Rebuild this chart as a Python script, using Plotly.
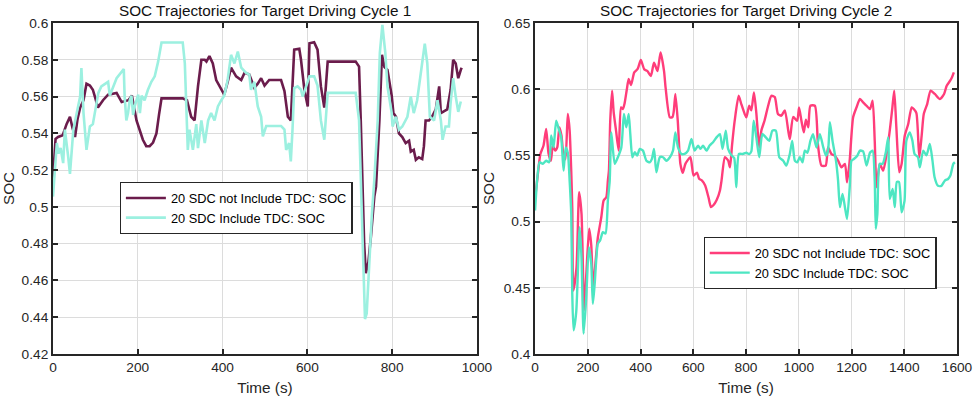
import plotly.graph_objects as go

# ---------------- Data: Cycle 1 ----------------
c1_not_t = [0, 6, 12, 23, 32, 40, 46, 52, 58, 64, 72, 79, 87, 94, 100, 106, 118, 130, 150, 162, 178, 186,
            197, 205, 212, 220, 228, 236, 244, 250, 256, 306, 316, 326, 334, 342, 350, 358, 362, 369, 377,
            385, 397, 404, 412, 420, 432, 444, 452, 463, 475, 483, 491, 499, 510, 538, 546, 554, 561, 569,
            581, 585, 593, 601, 605, 616, 624, 632, 640, 648, 714, 722, 726, 730, 734, 738, 744, 750, 758,
            762, 770, 776, 782, 789, 799, 803, 809, 816, 824, 832, 840, 844, 851, 856, 863, 871, 875, 879,
            887, 894, 903, 911, 915, 922, 930, 938, 944, 950, 956, 962, 964]
c1_not_soc = [0.515, 0.537, 0.538, 0.539, 0.545, 0.549, 0.543, 0.538, 0.548, 0.554, 0.558, 0.567, 0.566,
              0.5637, 0.559, 0.554, 0.558, 0.561, 0.562, 0.557, 0.558, 0.5606, 0.547, 0.542, 0.5365, 0.533,
              0.533, 0.535, 0.540, 0.550, 0.559, 0.559, 0.558, 0.549, 0.547, 0.5655, 0.580, 0.580, 0.579,
              0.582, 0.578, 0.569, 0.5635, 0.561, 0.568, 0.5757, 0.571, 0.569, 0.573, 0.572, 0.5648, 0.567,
              0.570, 0.566, 0.569, 0.569, 0.563, 0.549, 0.547, 0.5855, 0.586, 0.580, 0.5637, 0.5546, 0.589,
              0.5895, 0.5855, 0.5655, 0.554, 0.579, 0.579, 0.5763, 0.547, 0.511, 0.480, 0.464, 0.470, 0.484,
              0.5056, 0.511, 0.547, 0.5827, 0.576, 0.5745, 0.5605, 0.551, 0.549, 0.540, 0.538, 0.5347, 0.536,
              0.530, 0.531, 0.5256, 0.527, 0.526, 0.533, 0.547, 0.547, 0.549, 0.553, 0.5655, 0.551, 0.552,
              0.553, 0.5637, 0.580, 0.578, 0.570, 0.5745, 0.5757]

c1_inc_t = [0, 9, 13, 18, 24, 28, 36, 40, 48, 56, 64, 67, 72, 79, 87, 94, 107, 114, 122, 130, 134, 142,
            150, 167, 169, 173, 177, 181, 185, 189, 193, 201, 205, 209, 216, 224, 232, 240, 248, 256, 306,
            311, 315, 318, 322, 330, 338, 342, 350, 358, 366, 373, 381, 389, 397, 404, 412, 420, 428, 436,
            444, 455, 463, 467, 475, 483, 491, 495, 503, 538, 546, 550, 557, 561, 565, 569, 577, 585, 589,
            597, 605, 616, 624, 632, 640, 648, 714, 722, 728, 732, 736, 740, 746, 752, 758, 766, 771, 777,
            784, 789, 799, 801, 809, 816, 824, 836, 844, 851, 859, 871, 877, 883, 889, 899, 907, 915, 919,
            926, 934, 938, 944, 950, 956, 962]
c1_inc_soc = [0.5056, 0.5347, 0.529, 0.532, 0.5238, 0.542, 0.527, 0.518, 0.542, 0.551, 0.560, 0.5755,
              0.551, 0.531, 0.5437, 0.545, 0.562, 0.5655, 0.567, 0.568, 0.5605, 0.565, 0.570, 0.5749, 0.560,
              0.547, 0.551, 0.558, 0.5605, 0.550, 0.555, 0.561, 0.551, 0.5605, 0.558, 0.5637, 0.568, 0.571,
              0.579, 0.5894, 0.5894, 0.578, 0.551, 0.531, 0.542, 0.531, 0.545, 0.532, 0.547, 0.5347, 0.547,
              0.551, 0.547, 0.5546, 0.558, 0.5605, 0.569, 0.5827, 0.578, 0.5845, 0.5757, 0.573, 0.572,
              0.5637, 0.568, 0.5546, 0.549, 0.5383, 0.544, 0.544, 0.542, 0.531, 0.5347, 0.5247, 0.542,
              0.5646, 0.5655, 0.5637, 0.560, 0.5655, 0.571, 0.571, 0.566, 0.547, 0.5365, 0.562, 0.562, 0.547,
              0.500, 0.460, 0.439, 0.442, 0.470, 0.495, 0.5147, 0.547, 0.5836, 0.599, 0.5836, 0.5655, 0.551,
              0.5437, 0.549, 0.542, 0.5437, 0.549, 0.560, 0.551, 0.558, 0.578, 0.5887, 0.578, 0.549, 0.547,
              0.558, 0.547, 0.5365, 0.5437, 0.5437, 0.5565, 0.570, 0.560, 0.5517, 0.5573]

# ---------------- Data: Cycle 2 ----------------
c2_not_t = [0, 10, 20, 32, 42, 51, 60, 67, 76, 84, 92, 100, 107, 115, 124, 131, 137, 141, 145, 157, 167,
            176, 186, 194, 205, 213, 220, 225, 238, 251, 260, 270, 276, 280, 285, 292, 298, 307, 317, 326,
            333, 339, 348, 355, 364, 376, 389, 401, 414, 426, 439, 451, 464, 476, 489, 495, 511, 521, 526,
            532, 541, 551, 560, 570, 589, 601, 614, 622, 633, 645, 658, 667, 676, 689, 701, 707, 720, 732,
            739, 747, 757, 772, 782, 795, 801, 812, 820, 830, 839, 850, 858, 870, 882, 896, 909, 921, 934,
            947, 960, 966, 979, 994, 1001, 1010, 1019, 1027, 1036, 1044, 1061, 1073, 1086, 1102, 1111, 1124,
            1136, 1149, 1162, 1175, 1183, 1193, 1206, 1219, 1232, 1244, 1257, 1270, 1280, 1288, 1295, 1307,
            1320, 1333, 1345, 1355, 1362, 1370, 1381, 1390, 1402, 1415, 1428, 1436, 1446, 1457, 1466, 1474,
            1487, 1500, 1516, 1535, 1551, 1561, 1574, 1581, 1588]
c2_not_soc = [0.518, 0.535, 0.551, 0.5575, 0.570, 0.5515, 0.546, 0.5575, 0.5536, 0.556, 0.5712, 0.565,
              0.551, 0.547, 0.5813, 0.569, 0.5385, 0.510, 0.448, 0.465, 0.5222, 0.506, 0.433, 0.4595, 0.4946,
              0.482, 0.448, 0.4595, 0.488, 0.5033, 0.516, 0.5184, 0.531, 0.5385, 0.5762, 0.5989, 0.5827,
              0.5687, 0.5536, 0.5863, 0.585, 0.5889, 0.600, 0.6077, 0.6032, 0.6127, 0.6153, 0.622, 0.615,
              0.6137, 0.610, 0.620, 0.6137, 0.6277, 0.6137, 0.601, 0.5787, 0.579, 0.5835, 0.5964, 0.5762,
              0.5436, 0.5368, 0.5436, 0.5486, 0.5348, 0.537, 0.5323, 0.531, 0.5272, 0.518, 0.511, 0.5123,
              0.5165, 0.5235, 0.531, 0.5486, 0.5462, 0.541, 0.558, 0.5762, 0.595, 0.5888, 0.5812, 0.5787,
              0.5875, 0.584, 0.5976, 0.582, 0.556, 0.5687, 0.5762, 0.586, 0.595, 0.594, 0.5813, 0.580, 0.584,
              0.5687, 0.5623, 0.579, 0.5762, 0.5863, 0.5762, 0.5674, 0.577, 0.5712, 0.5875, 0.5875, 0.5574,
              0.5423, 0.5423, 0.556, 0.551, 0.5498, 0.546, 0.541, 0.5436, 0.5297, 0.546, 0.5787, 0.5863,
              0.5926, 0.590, 0.5875, 0.585, 0.5913, 0.5611, 0.526, 0.5436, 0.5385, 0.551, 0.5687, 0.5863,
              0.5989, 0.5712, 0.5373, 0.5436, 0.565, 0.5737, 0.5863, 0.585, 0.582, 0.5486, 0.565, 0.5813,
              0.5888, 0.5989, 0.5964, 0.5926, 0.5964, 0.6026, 0.6064, 0.609, 0.6127]

c2_inc_t = [0, 8, 17, 29, 42, 53, 61, 70, 80, 91, 99, 108, 116, 124, 131, 137, 141, 146, 156, 169, 176,
            184, 194, 204, 213, 219, 226, 238, 247, 257, 267, 276, 283, 289, 302, 314, 327, 337, 346, 355,
            361, 369, 378, 387, 397, 409, 422, 435, 443, 451, 460, 473, 485, 498, 511, 523, 532, 542, 555,
            567, 580, 593, 605, 618, 627, 637, 650, 662, 675, 688, 701, 711, 723, 732, 745, 755, 763, 773,
            788, 801, 812, 820, 829, 839, 850, 862, 875, 888, 900, 913, 926, 941, 953, 966, 975, 985, 994,
            1004, 1014, 1023, 1033, 1044, 1054, 1067, 1080, 1093, 1103, 1111, 1118, 1128, 1141, 1149, 1156,
            1166, 1175, 1183, 1193, 1200, 1209, 1222, 1232, 1244, 1257, 1270, 1280, 1288, 1292, 1298, 1307,
            1318, 1330, 1339, 1345, 1356, 1364, 1372, 1380, 1390, 1401, 1408, 1421, 1431, 1439, 1452, 1459,
            1472, 1484, 1497, 1507, 1515, 1528, 1541, 1554, 1566, 1575, 1586, 1592]
c2_inc_soc = [0.5084, 0.532, 0.5448, 0.5436, 0.546, 0.5448, 0.565, 0.5561, 0.5762, 0.569, 0.5636, 0.5385,
              0.556, 0.552, 0.531, 0.506, 0.4455, 0.4179, 0.4318, 0.4958, 0.473, 0.4154, 0.443, 0.4807,
              0.4682, 0.438, 0.453, 0.4833, 0.486, 0.492, 0.491, 0.516, 0.531, 0.5674, 0.5436, 0.5486, 0.556,
              0.5813, 0.5712, 0.5813, 0.5662, 0.5486, 0.5524, 0.5498, 0.5549, 0.5536, 0.546, 0.5448, 0.5474,
              0.5549, 0.5373, 0.5486, 0.5486, 0.546, 0.5486, 0.5536, 0.5674, 0.556, 0.5511, 0.5511, 0.5536,
              0.5624, 0.5536, 0.5574, 0.5549, 0.5574, 0.5536, 0.5574, 0.560, 0.5636, 0.5661, 0.5549, 0.5687,
              0.5549, 0.550, 0.548, 0.526, 0.5511, 0.5511, 0.552, 0.551, 0.553, 0.5762, 0.5636, 0.5486,
              0.5662, 0.5636, 0.561, 0.5687, 0.5687, 0.5486, 0.546, 0.5423, 0.5511, 0.561, 0.546, 0.5448,
              0.5486, 0.5448, 0.5536, 0.552, 0.561, 0.5661, 0.556, 0.5661, 0.556, 0.5499, 0.5536, 0.575,
              0.561, 0.546, 0.531, 0.5109, 0.5209, 0.5109, 0.502, 0.5255, 0.546, 0.5473, 0.5498, 0.5536,
              0.553, 0.5423, 0.552, 0.5536, 0.531, 0.4946, 0.5058, 0.5436, 0.5436, 0.5523, 0.5636, 0.5172,
              0.5247, 0.5109, 0.530, 0.5299, 0.507, 0.5157, 0.561, 0.5674, 0.561, 0.5511, 0.5486, 0.541,
              0.5536, 0.550, 0.5587, 0.546, 0.5335, 0.527, 0.527, 0.531, 0.5322, 0.5348, 0.5436, 0.5448]

name_not = "20 SDC not Include TDC: SOC"
name_inc = "20 SDC Include TDC: SOC"
titles = ["SOC Trajectories for Target Driving Cycle 1", "SOC Trajectories for Target Driving Cycle 2"]

FONT = "Liberation Sans, Arial, sans-serif"
AX = "#262626"

fig = go.Figure()
fig.add_trace(go.Scatter(x=c1_not_t, y=c1_not_soc, mode="lines", name=name_not,
                         line=dict(color="#6B1C4C", width=2.6), xaxis="x", yaxis="y", legend="legend"))
fig.add_trace(go.Scatter(x=c1_inc_t, y=c1_inc_soc, mode="lines", name=name_inc,
                         line=dict(color="#9CF0E0", width=2.6), xaxis="x", yaxis="y", legend="legend"))
fig.add_trace(go.Scatter(x=c2_not_t, y=c2_not_soc, mode="lines", name=name_not,
                         line=dict(color="#FF3D7A", width=2.4, shape="spline", smoothing=0.6),
                         xaxis="x2", yaxis="y2", legend="legend2"))
fig.add_trace(go.Scatter(x=c2_inc_t, y=c2_inc_soc, mode="lines", name=name_inc,
                         line=dict(color="#4DE6C2", width=2.4, shape="spline", smoothing=0.6),
                         xaxis="x2", yaxis="y2", legend="legend2"))

W, H = 974, 401
ML, MR, MT, MB = 53.3, 16.5, 23, 47
PW, PH = W - ML - MR, H - MT - MB

def px_x(p):
    return (p - ML) / PW

def px_y(p):
    return (H - MB - p) / PH

def xax(domain, rng, anchor):
    return dict(domain=domain, range=rng, dtick=200, tick0=0, anchor=anchor, automargin=False,
                showline=True, linecolor=AX, linewidth=2, mirror="ticks",
                ticks="inside", ticklen=5, tickwidth=1.5, tickcolor=AX,
                showgrid=True, gridcolor="#DCDCDC", gridwidth=1.2, zeroline=False,
                tickfont=dict(family=FONT, size=13.7, color=AX),
                title=dict(text="Time (s)", font=dict(family=FONT, size=15.3, color=AX), standoff=8))

def yax(domain, rng, dtick, anchor):
    return dict(domain=domain, range=rng, dtick=dtick, tick0=0, anchor=anchor, automargin=False,
                showline=True, linecolor=AX, linewidth=2, mirror="ticks",
                ticks="inside", ticklen=5, tickwidth=1.5, tickcolor=AX,
                showgrid=True, gridcolor="#DCDCDC", gridwidth=1.2, zeroline=False,
                tickfont=dict(family=FONT, size=13.7, color=AX),
                title=dict(text="SOC", font=dict(family=FONT, size=15.3, color=AX), standoff=5))

leg_common = dict(bgcolor="white", bordercolor=AX, borderwidth=1.2,
                  font=dict(family=FONT, size=12.8, color="black"),
                  xanchor="left", yanchor="top", itemwidth=40, tracegroupgap=0)

fig.update_layout(
    width=W, height=H,
    margin=dict(l=ML, r=MR, t=MT, b=MB, autoexpand=False),
    paper_bgcolor="white", plot_bgcolor="white",
    xaxis=xax([0, px_x(477.3)], [0, 1000], "y"),
    yaxis=yax([0, 1], [0.42, 0.6], 0.02, "x"),
    xaxis2=xax([px_x(535.5), 1], [0, 1600], "y2"),
    yaxis2=yax([0, 1], [0.4, 0.65], 0.05, "x2"),
    legend=dict(x=px_x(120), y=px_y(182), **leg_common),
    legend2=dict(x=px_x(704), y=px_y(237), **leg_common),
    annotations=[
        dict(text=titles[0], x=px_x((53.3 + 477.3) / 2), y=px_y(10.5), xref="paper", yref="paper",
             showarrow=False, xanchor="center", yanchor="middle",
             font=dict(family=FONT, size=15.3, color="#111111")),
        dict(text=titles[1], x=px_x((535.5 + 957.5) / 2), y=px_y(10.5), xref="paper", yref="paper",
             showarrow=False, xanchor="center", yanchor="middle",
             font=dict(family=FONT, size=15.3, color="#111111")),
    ],
)

fig.write_html("out.html", config={"displayModeBar": False},
               post_script="document.body.style.margin='0px';document.body.style.overflow='hidden';")
